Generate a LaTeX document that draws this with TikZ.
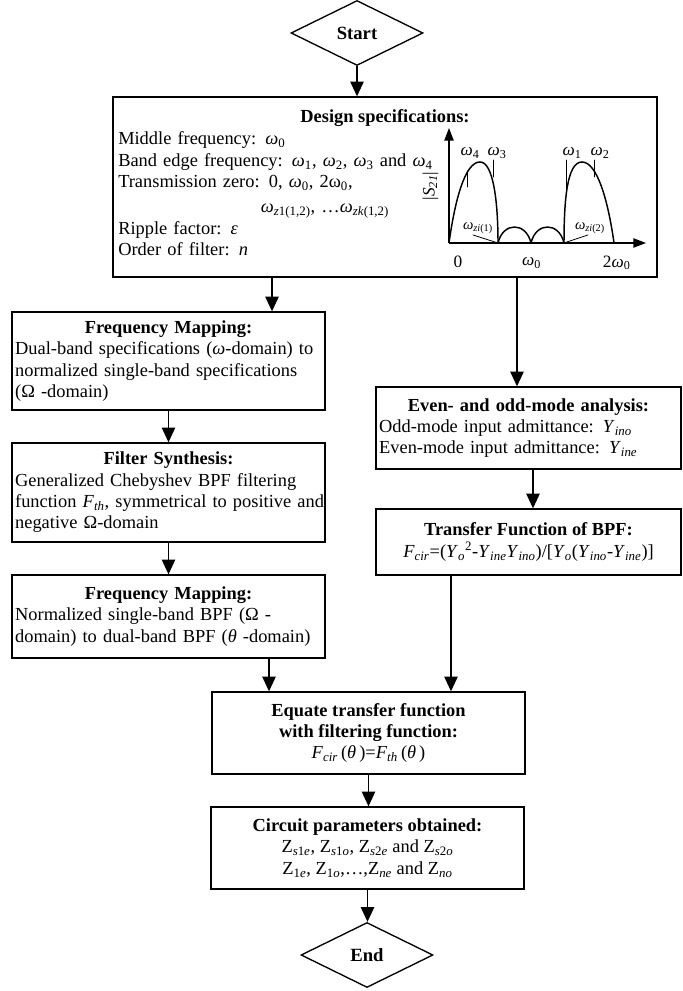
\documentclass[tikz,border=0pt]{standalone}
\usepackage{fontspec}
\setmainfont{Liberation Serif}
\usepackage{tikz}
\usepackage{tkz-euclide}
\usetikzlibrary{calc,shapes.geometric}
\usetikzlibrary{arrows.meta}

\newcommand{\ivar}[2]{\textit{#1}\textsubscript{\textit{#2}}}
\newcommand{\omg}[1]{\textit{ω}\textsubscript{#1}}

\begin{document}
\begin{tikzpicture}[x=0.75pt,y=0.75pt,
        txt/.style={inner sep=0pt,font=\fontsize{13.8pt}{16pt}\selectfont},
        box/.style={txt,draw,line width=1pt},
        leftbox/.style={box,align=left,text width=230pt,minimum width=234.75pt,minimum height=#1},
        rightbox/.style={box,align=left,text width=224pt,minimum width=228.75pt,minimum height=#1},
        midbox/.style={box,align=center,minimum width=234.75pt,minimum height=#1},
        term/.style={box,diamond,aspect=2,minimum width=99pt,minimum height=48.75pt,font=\fontsize{14pt}{16pt}\selectfont\bfseries},
        arr/.style={-{Triangle[length=11pt,width=10pt]},line width=1pt},
        axis/.style={-{Triangle[length=9.5pt,width=7pt]},line width=1pt},
        lbl/.style={inner sep=0pt,font=\fontsize{13pt}{15pt}\selectfont},
        small/.style={inner sep=0pt,font=\fontsize{11pt}{13pt}\selectfont}]
                \useasboundingbox (0,0) rectangle (682,991);
                % box centres
                \tkzDefPoint(357,958){Ps}
                \tkzDefPoint(385,804){Pspec}
                \tkzDefPoint(168.5,630){Pfm1}
                \tkzDefPoint(168.5,498.5){Psyn}
                \tkzDefPoint(168.5,374.5){Pfm2}
                \tkzDefPoint(528.5,563){Peo}
                \tkzDefPoint(528.5,449){Ptf}
                \tkzDefPoint(368.5,258){Peq}
                \tkzDefPoint(367.5,143){Pcp}
                \tkzDefPoint(367,36){Pe}
                \node[term] (start) at (Ps) {Start};
                \node[box,minimum width=408pt,minimum height=135pt] (spec) at (Pspec) {};
                \tkzDefPoint(385,868){Tt}
                \tkzDefPoint(118,846){Tb}
                \node[txt,anchor=base] (spectitle) at (Tt) {\textbf{Design specifications:}};
                \node[txt,anchor=base west,align=left,text width=330pt] (specbody) at (Tb)
                    {Middle frequency: \omg{0}\\
                     Band edge frequency: \omg{1}, \omg{2}, \omg{3} and \omg{4}\\
                     Transmission zero: 0, \omg{0}, 2ω\textsubscript{0},\\[3pt]
                     \hspace*{107pt}\omg{\textit{z}1(1,2)}, …\omg{\textit{zk}(1,2)}\\
                     Ripple factor: \textit{ε}\\
                     Order of filter: \textit{n}};
                \node[leftbox=73.5pt] (fm1) at (Pfm1)
                    {\makebox[\linewidth]{\textbf{Frequency Mapping:}}\\
                     Dual-band specifications (\textit{ω}-domain) to\\
                     normalized single-band specifications\\
                     (Ω -domain)};
                \node[leftbox=74.25pt] (syn) at (Psyn)
                    {\makebox[\linewidth]{\textbf{Filter Synthesis:}}\\
                     Generalized Chebyshev BPF filtering\\
                     \mbox{function \ivar{F}{th}, symmetrical to positive and}\\
                     negative Ω-domain};
                \node[leftbox=62.25pt] (fm2) at (Pfm2)
                    {\makebox[\linewidth]{\textbf{Frequency Mapping:}}\\
                     Normalized single-band BPF (Ω -\\
                     domain) to dual-band BPF (\textit{θ} -domain)};
                \node[rightbox=61.5pt] (eo) at (Peo)
                    {\makebox[\linewidth]{\textbf{Even- and odd-mode analysis:}}\\
                     Odd-mode input admittance: \ivar{Y}{ino}\\
                     Even-mode input admittance: \ivar{Y}{ine}};
                \node[box,align=center,minimum width=228.75pt,minimum height=49.5pt] (tf) at (Ptf)
                    {\textbf{Transfer Function of BPF:}\\
                     \ivar{F}{cir}=(\ivar{Y}{o}\textsuperscript{2}-\ivar{Y}{ine}\ivar{Y}{ino})/[\ivar{Y}{o}(\ivar{Y}{ino}-\ivar{Y}{ine})]};
                \node[midbox=61.5pt] (eq) at (Peq)
                    {\textbf{Equate transfer function}\\
                     \textbf{with filtering function:}\\
                     \ivar{F}{cir}\,(\textit{θ}\,)=\ivar{F}{th}\,(\textit{θ}\,)};
                \node[midbox=61.5pt] (cp) at (Pcp)
                    {\textbf{Circuit parameters obtained:}\\
                     Z\textsubscript{\textit{s}1\textit{e}}, Z\textsubscript{\textit{s}1\textit{o}}, Z\textsubscript{\textit{s}2\textit{e}} and Z\textsubscript{\textit{s}2\textit{o}}\\
                     Z\textsubscript{1\textit{e}}, Z\textsubscript{1\textit{o}},…,Z\textsubscript{\textit{ne}} and Z\textsubscript{\textit{no}}};
                \node[term] (end) at (Pe) {End};
                % connectors
                \tkzDefPoint(272,0){xa}
                \tkzDefPoint(517,0){xb}
                \tkzDefPoint(269,0){xc}
                \tkzDefPoint(533,0){xd}
                \tkzDefPoint(451,0){xe}
                \draw[arr] (start.south) -- (start.south |- spec.north);
                \draw[arr] (spec.south -| xa) -- (fm1.north -| xa);
                \draw[arr] (spec.south -| xb) -- (eo.north -| xb);
                \draw[arr] (fm1) -- (syn);
                \draw[arr] (syn) -- (fm2);
                \draw[arr] (fm2.south -| xc) -- (eq.north -| xc);
                \draw[arr] (eo.south -| xd) -- (tf.north -| xd);
                \draw[arr] (tf.south -| xe) -- (eq.north -| xe);
                \draw[arr] (eq.south) -- (eq.south |- cp.north);
                \draw[arr] (cp.south) -- (cp.south |- end.north);
                % |S21| sketch
                \tkzDefPoint(449,748){O}
                \tkzDefPoint(449,863){Y}
                \tkzDefPoint(646,748){X}
                \tkzDefPoint(498,748){Z1}
                \tkzDefPoint(531,748){Z2}
                \tkzDefPoint(564,748){Z3}
                \tkzDefPoint(614,748){Z4}
                \draw[axis] (O) -- (Y);
                \draw[axis] (O) -- (X);
                \draw[line width=1.1pt] (O) .. controls (455,791) and (465,829) .. (480,829)
                      .. controls (493,829) and (498,791) .. (Z1);
                \draw[line width=1.1pt] (Z1) .. controls (503,769.3) and (526,769.3) .. (Z2);
                \draw[line width=1.1pt] (Z2) .. controls (536,769.3) and (559,769.3) .. (Z3);
                \draw[line width=1.1pt] (Z3) .. controls (564,791) and (567,829) .. (582,829)
                      .. controls (597,829) and (608,791) .. (Z4);
                \tkzDefPoint(467.5,820){a4} \tkzDefPoint(467.5,804){b4}
                \tkzDefPoint(493,831){a3} \tkzDefPoint(493,814){b3}
                \tkzDefPoint(566,831){a1} \tkzDefPoint(566,801){b1}
                \tkzDefPoint(594,831){a2} \tkzDefPoint(594,814){b2}
                \tkzDefPoint(473,756){q1} \tkzDefPoint(588,756){q2}
                \tkzDrawSegments[color=black,line width=.6pt](a4,b4 a3,b3 a1,b1 a2,b2)
                \tkzDrawSegments[color=black,line width=.6pt](q1,Z1 q2,Z3)
                %\tkzDrawPoints(O,Z1,Z2,Z3,Z4)
                \node[lbl] (w4) at (470,838) {\omg{4}};
                \node[lbl] (w3) at (497,838) {\omg{3}};
                \node[lbl] (w1) at (572,838) {\omg{1}};
                \node[lbl] (w2) at (600,838) {\omg{2}};
                \node[lbl,rotate=90] (s21) at (430.5,805) {|\textit{S}\textsubscript{\textit{21}}|};
                \node[small] (wz1) at (478,763) {\omg{\textit{zi}(1)}};
                \node[small] (wz2) at (590,763) {\omg{\textit{zi}(2)}};
                \node[lbl] (l0) at (458,729) {0};
                \node[lbl] (lw0) at (531.7,728) {\omg{0}};
                \node[lbl] (l2w0) at (616.7,728) {2\omg{0}};
            \end{tikzpicture}
\end{document}
